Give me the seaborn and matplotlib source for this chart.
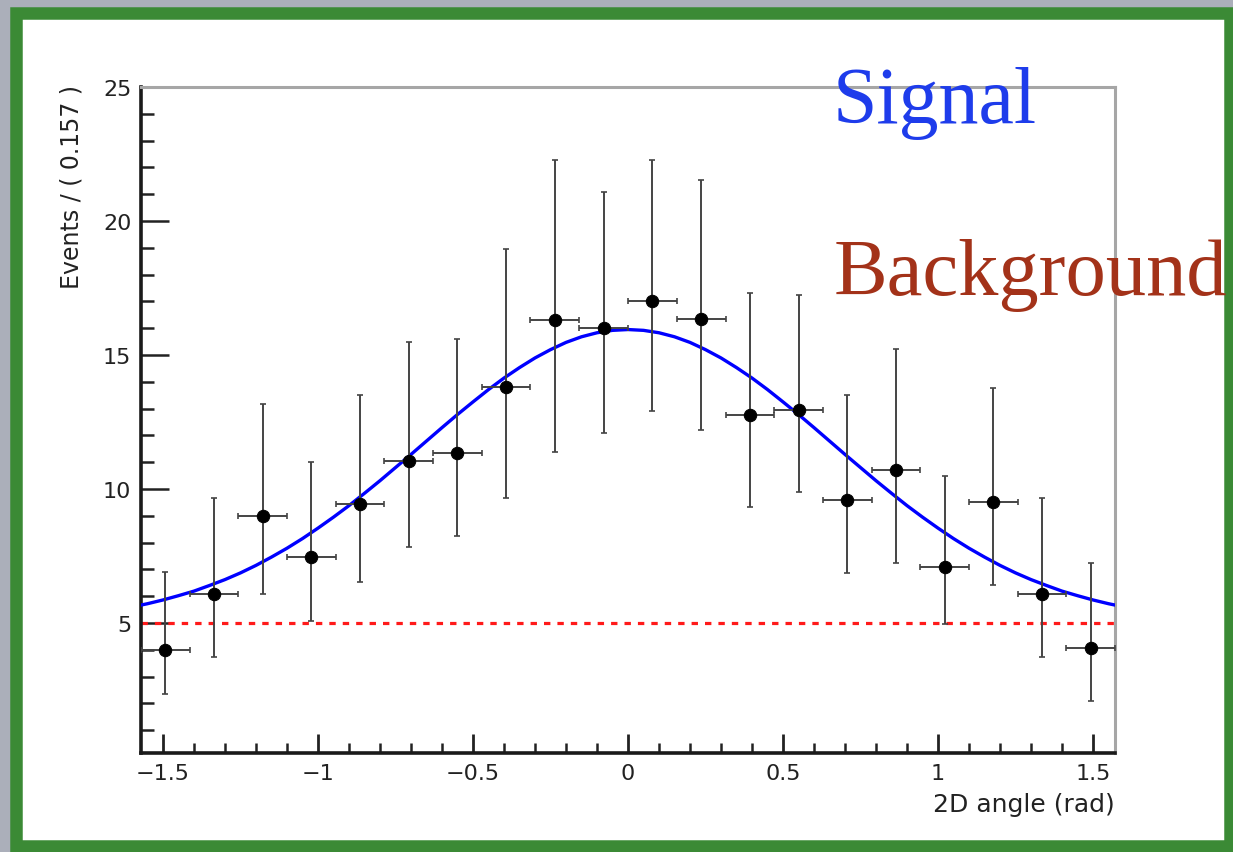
import matplotlib.pyplot as plt
import numpy as np
import pandas as pd
import seaborn as sns
from matplotlib.patches import Rectangle
from matplotlib.ticker import MultipleLocator

# binned data, 20 bins of 0.157 rad over [-pi/2, pi/2]
bin_centers = [-1.492, -1.335, -1.178, -1.021, -0.864, -0.707, -0.550, -0.393, -0.236, -0.079,
               0.079, 0.236, 0.393, 0.550, 0.707, 0.864, 1.021, 1.178, 1.335, 1.492]
events = [4.0, 6.1, 9.0, 7.45, 9.45, 11.05, 11.35, 13.8, 16.3, 16.0,
          17.0, 16.35, 12.75, 12.95, 9.6, 10.7, 7.1, 9.5, 6.1, 4.05]
err_low = [2.35, 3.73, 6.08, 5.07, 6.53, 7.84, 8.25, 9.66, 11.38, 12.09,
           12.91, 12.2, 9.33, 9.89, 6.87, 7.24, 4.96, 6.42, 3.73, 2.09]
err_high = [6.9, 9.66, 13.17, 11.0, 13.5, 15.49, 15.6, 18.96, 22.28, 21.08,
            22.28, 21.53, 17.31, 17.24, 13.5, 15.22, 10.49, 13.77, 9.66, 7.24]
bin_width = 0.157

# fitted signal + background curve (right half, mirrored on the left)
curve_x_half = [0.0, 0.05, 0.1, 0.15, 0.2, 0.25, 0.3, 0.35, 0.4, 0.45, 0.5, 0.55, 0.6, 0.65, 0.7, 0.75, 0.8,
                0.85, 0.9, 0.95, 1.0, 1.05, 1.1, 1.15, 1.2, 1.25, 1.3, 1.35, 1.4, 1.45, 1.5, 1.55, 1.5708]
curve_y_half = [15.95, 15.92, 15.83, 15.68, 15.47, 15.2, 14.89, 14.53, 14.14, 13.71, 13.25, 12.78, 12.29,
                11.79, 11.29, 10.8, 10.31, 9.84, 9.38, 8.95, 8.54, 8.15, 7.79, 7.46, 7.15, 6.87, 6.62,
                6.4, 6.19, 6.02, 5.86, 5.72, 5.67]
background_level = 5.0

x_ticks = [-1.5, -1.0, -0.5, 0.0, 0.5, 1.0, 1.5]
x_tick_labels = ["\u22121.5", "\u22121", "\u22120.5", "0", "0.5", "1", "1.5"]
y_ticks = [5, 10, 15, 20, 25]

sns.set_style("ticks")
plt.rcParams['font.family'] = ['DejaVu Sans']

df = pd.DataFrame({"angle": bin_centers, "events": events, "lo": err_low, "hi": err_high})
fit = pd.DataFrame({"angle": [-v for v in curve_x_half[::-1]] + curve_x_half[1:],
                    "events": curve_y_half[::-1] + curve_y_half[1:]})

W, H = 1233, 853
fig = plt.figure(figsize=(W / 100, H / 100), dpi=100, facecolor="#abafba")

# white slide with green hand-drawn frame
fig.patches.append(Rectangle((16 / W, 6 / H), (1230 - 16) / W, (839.5 - 6) / H, transform=fig.transFigure,
                             facecolor="white", edgecolor="#3b8a35", linewidth=9, zorder=-5))

ax = fig.add_axes([141 / W, (853 - 754) / H, (1115 - 141) / W, (754 - 88) / H])
ax.set_zorder(2)
ax.set_facecolor("none")

ax.axhline(background_level, color="#ff1a1a", linewidth=2.3, linestyle=(0, (2.0, 2.2)), zorder=2)
sns.lineplot(data=fit, x="angle", y="events", ax=ax, color="#0000ff", linewidth=2.4, sort=False, zorder=3)

yerr = [df["events"] - df["lo"], df["hi"] - df["events"]]
ax.errorbar(df["angle"], df["events"], yerr=yerr, xerr=bin_width / 2, fmt="none", ecolor="#444444",
            elinewidth=1.4, capsize=2.2, capthick=1.2, zorder=4)
sns.scatterplot(data=df, x="angle", y="events", ax=ax, color="black", s=80, edgecolor="black", zorder=5,
                legend=False)

ax.set_xlim(-np.pi / 2, np.pi / 2)
ax.set_ylim(0.15, 25)
ax.set_xticks(x_ticks)
ax.set_xticklabels(x_tick_labels)
ax.set_yticks(y_ticks)
ax.xaxis.set_minor_locator(MultipleLocator(0.1))
ax.yaxis.set_minor_locator(MultipleLocator(1))
ax.tick_params(axis="both", which="both", direction="in", colors="#222222", labelsize=16)
ax.tick_params(axis="y", which="major", length=20, width=1.8, pad=7)
ax.tick_params(axis="y", which="minor", length=9.5, width=1.8)
ax.tick_params(axis="x", which="major", length=14, width=2.0, pad=7)
ax.tick_params(axis="x", which="minor", length=7, width=1.8)

for side in ("left", "bottom"):
    ax.spines[side].set_color("#1a1a1a")
    ax.spines[side].set_linewidth(2.6)
for side in ("top", "right"):
    ax.spines[side].set_color("#a6a6a6")
    ax.spines[side].set_linewidth(2.2)

ax.set_xlabel("")
ax.set_ylabel("")
fig.text(72 / W, (853 - 85) / H, "Events / ( 0.157 )", rotation=90, ha="center", va="top", fontsize=17,
         color="#222222")
fig.text(1115 / W, (853 - 805) / H, "2D angle (rad)", ha="right", va="center", fontsize=18, color="#222222")

fig.text(833 / W, (853 - 123) / H, "Signal", family="Liberation Serif", fontsize=57.5, color="#1e3ceb",
         ha="left", va="baseline", zorder=6)
fig.text(834 / W, (853 - 295) / H, "Background", family="Liberation Serif", fontsize=58, color="#a33219",
         ha="left", va="baseline", zorder=6)

fig.savefig("out.png", dpi=100, facecolor=fig.get_facecolor())
